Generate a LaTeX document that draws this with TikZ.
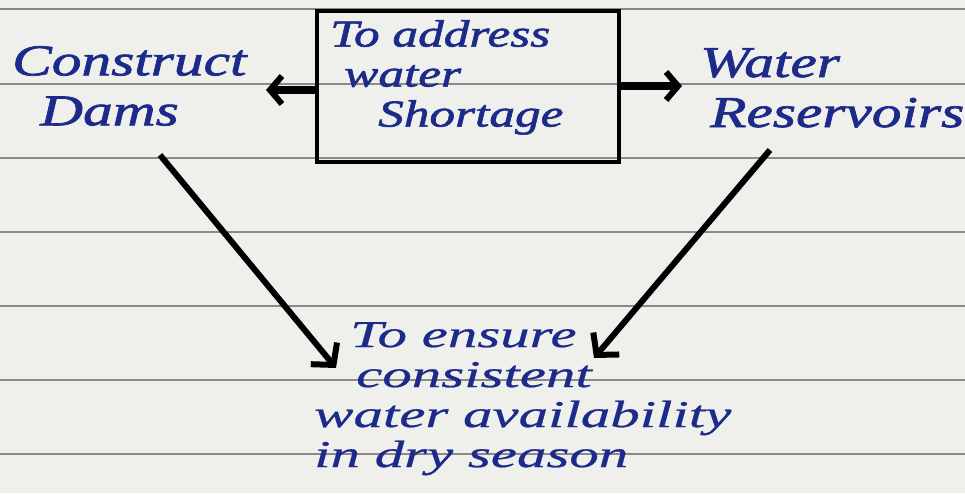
\documentclass[tikz,border=0pt]{standalone}
\usepackage{fontspec}
\newfontfamily\handfont[FakeStretch=1.35,FakeBold=1.6]{Liberation Serif}
\newfontfamily\thinhand[FakeStretch=1.55,FakeBold=0.6]{Liberation Serif}
\usetikzlibrary{arrows.meta}
\definecolor{paper}{HTML}{EFEFEC}
\definecolor{rule}{HTML}{8A8A8A}
\definecolor{ink}{HTML}{1C2A8A}
\begin{document}
\begin{tikzpicture}[x=1pt,y=-1pt,
  hand/.style={text=ink,inner sep=0pt},
  big/.style={hand,font=\handfont\fontsize{44}{50}\selectfont\itshape},
  mid/.style={hand,font=\handfont\fontsize{38}{40}\selectfont\itshape},
  small/.style={hand,font=\thinhand\fontsize{38}{40}\selectfont\itshape},
  harr/.style={draw=black,line width=8pt,-{Straight Barb[length=12pt,width=28pt,line width=6pt]}},
  darr/.style={draw=black,line width=6pt,-{Straight Barb[length=15pt,width=34pt,line width=6pt]}},
  ruleline/.style={draw=rule,line width=2pt}]
\fill[paper] (0,0) rectangle (965,493);
\useasboundingbox (0,0) rectangle (965,493);
\foreach \y in {9,84,158,232,306,380,454}
  \draw[ruleline] (0,\y) -- (965,\y);
\node[draw=black,line width=4pt,minimum width=302pt,minimum height=151pt,inner sep=0pt] (box) at (468,86) {};
\node[mid,align=left,anchor=north west] (addr) at (330,20) {To address\\\hspace*{14pt}water\\\hspace*{48pt}Shortage};
\node[big,align=left,anchor=north west] (dams) at (12,46) {Construct\\\hspace*{28pt}Dams};
\node[big,align=left,anchor=north west] (res) at (700,48) {Water\\\hspace*{10pt}Reservoirs};
\node[small,align=left,anchor=north west] (ensure) at (314,322) {\hspace*{36pt}To ensure\\\hspace*{42pt}consistent\\water availability\\in dry season};
\coordinate (tipL) at (336,368);
\coordinate (tipR) at (594,358);
\coordinate (tipW) at (266,90);
\coordinate (tipE) at (682,86);
\coordinate (startL) at (160,155);
\coordinate (startR) at (770,150);
\draw[harr] (box.west |- tipW) -- (tipW);
\draw[harr] (box.east |- tipE) -- (tipE);
\draw[darr] (startL) -- (tipL);
\draw[darr] (startR) -- (tipR);
\end{tikzpicture}
\end{document}
